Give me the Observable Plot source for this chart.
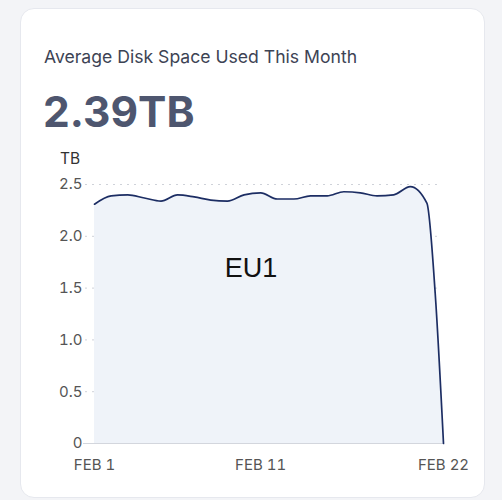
<!DOCTYPE html>
<html>
<head>
<meta charset="utf-8">
<script src="https://cdn.jsdelivr.net/npm/d3@7"></script>
<script src="https://cdn.jsdelivr.net/npm/@observablehq/plot@0.6"></script>
<style>
  html, body { margin: 0; padding: 0; }
  body { width: 502px; height: 500px; background: #f3f4f7; position: relative; overflow: hidden; font-family: Inter, "Noto Sans", sans-serif; }
  .card { position: absolute; left: 20px; top: 8px; width: 463px; height: 488px; background: #fff; border: 1px solid #e6e8ee; border-radius: 14px; }
  .title { position: absolute; left: 44px; top: 46px; font-size: 17.6px; color: #3d4354; }
  .big { position: absolute; left: 43px; top: 86px; font-size: 42.5px; font-weight: 700; color: #4e566f; }
  .unit { position: absolute; left: 60px; top: 149px; font-size: 15.5px; color: #333; }
  #chart { position: absolute; left: 0; top: 140px; }
</style>
</head>
<body>
<div class="card"></div>
<div class="title">Average Disk Space Used This Month</div>
<div class="big">2.39TB</div>
<div class="unit">TB</div>
<div id="chart"></div>
<script>
const dates = ["2023-02-01T00:00Z","2023-02-02T00:00Z","2023-02-03T00:00Z","2023-02-04T00:00Z","2023-02-05T00:00Z","2023-02-06T00:00Z","2023-02-07T00:00Z","2023-02-08T00:00Z","2023-02-09T00:00Z","2023-02-10T00:00Z","2023-02-11T00:00Z","2023-02-12T00:00Z","2023-02-13T00:00Z","2023-02-14T00:00Z","2023-02-15T00:00Z","2023-02-16T00:00Z","2023-02-17T00:00Z","2023-02-18T00:00Z","2023-02-19T00:00Z","2023-02-20T00:00Z","2023-02-21T00:00Z","2023-02-21T12:00Z","2023-02-22T00:00Z"];
const usedTB = [2.31,2.39,2.40,2.37,2.34,2.40,2.38,2.35,2.34,2.40,2.42,2.36,2.36,2.39,2.39,2.43,2.42,2.39,2.40,2.48,2.32,1.45,0];
const seriesName = "EU1";
const yTicks = [0,0.5,1.0,1.5,2.0,2.5];
const xTicks = ["2023-02-01T00:00Z","2023-02-11T00:00Z","2023-02-22T00:00Z"];

const data = dates.map((d,i) => ({date: new Date(d), value: usedTB[i]}));
const fmtDate = d => "FEB " + d.getUTCDate();

const chart = Plot.plot({
  width: 502,
  height: 340,
  marginLeft: 94,
  marginRight: 59,
  marginTop: 44,
  marginBottom: 37,
  style: {fontFamily: "Inter, 'Noto Sans', sans-serif", fontSize: "15px", color: "#555", background: "transparent"},
  x: {type: "utc", domain: [data[0].date, data[data.length-1].date]},
  y: {domain: [0, 2.5]},
  marks: [
    Plot.ruleY(yTicks.filter(t => t > 0), {stroke: "#cfd2d9", strokeDasharray: "2,5", insetLeft: -9, insetRight: 6}),
    Plot.areaY(data, {x: "date", y: "value", fill: "#eff3f9", curve: "monotone-x"}),
    Plot.ruleY([0], {stroke: "#d3d6dd", insetLeft: -11}),
    Plot.lineY(data, {x: "date", y: "value", stroke: "#1c2d63", strokeWidth: 1.7, curve: "monotone-x"}),
    Plot.axisY({ticks: yTicks, tickFormat: d => d === 0 ? "0" : d.toFixed(1), tickSize: 0, tickPadding: 12, label: null, fill: "#555"}),
    Plot.axisX({ticks: xTicks.map(d => new Date(d)), tickFormat: fmtDate, tickSize: 0, tickPadding: 16, label: null, fill: "#555"}),
    Plot.text([seriesName], {frameAnchor: "middle", dx: -18, dy: -46, fontSize: 27, fill: "#111", fontFamily: "'Liberation Sans', Arial, sans-serif"})
  ]
});
document.getElementById("chart").appendChild(chart);
</script>
</body>
</html>
